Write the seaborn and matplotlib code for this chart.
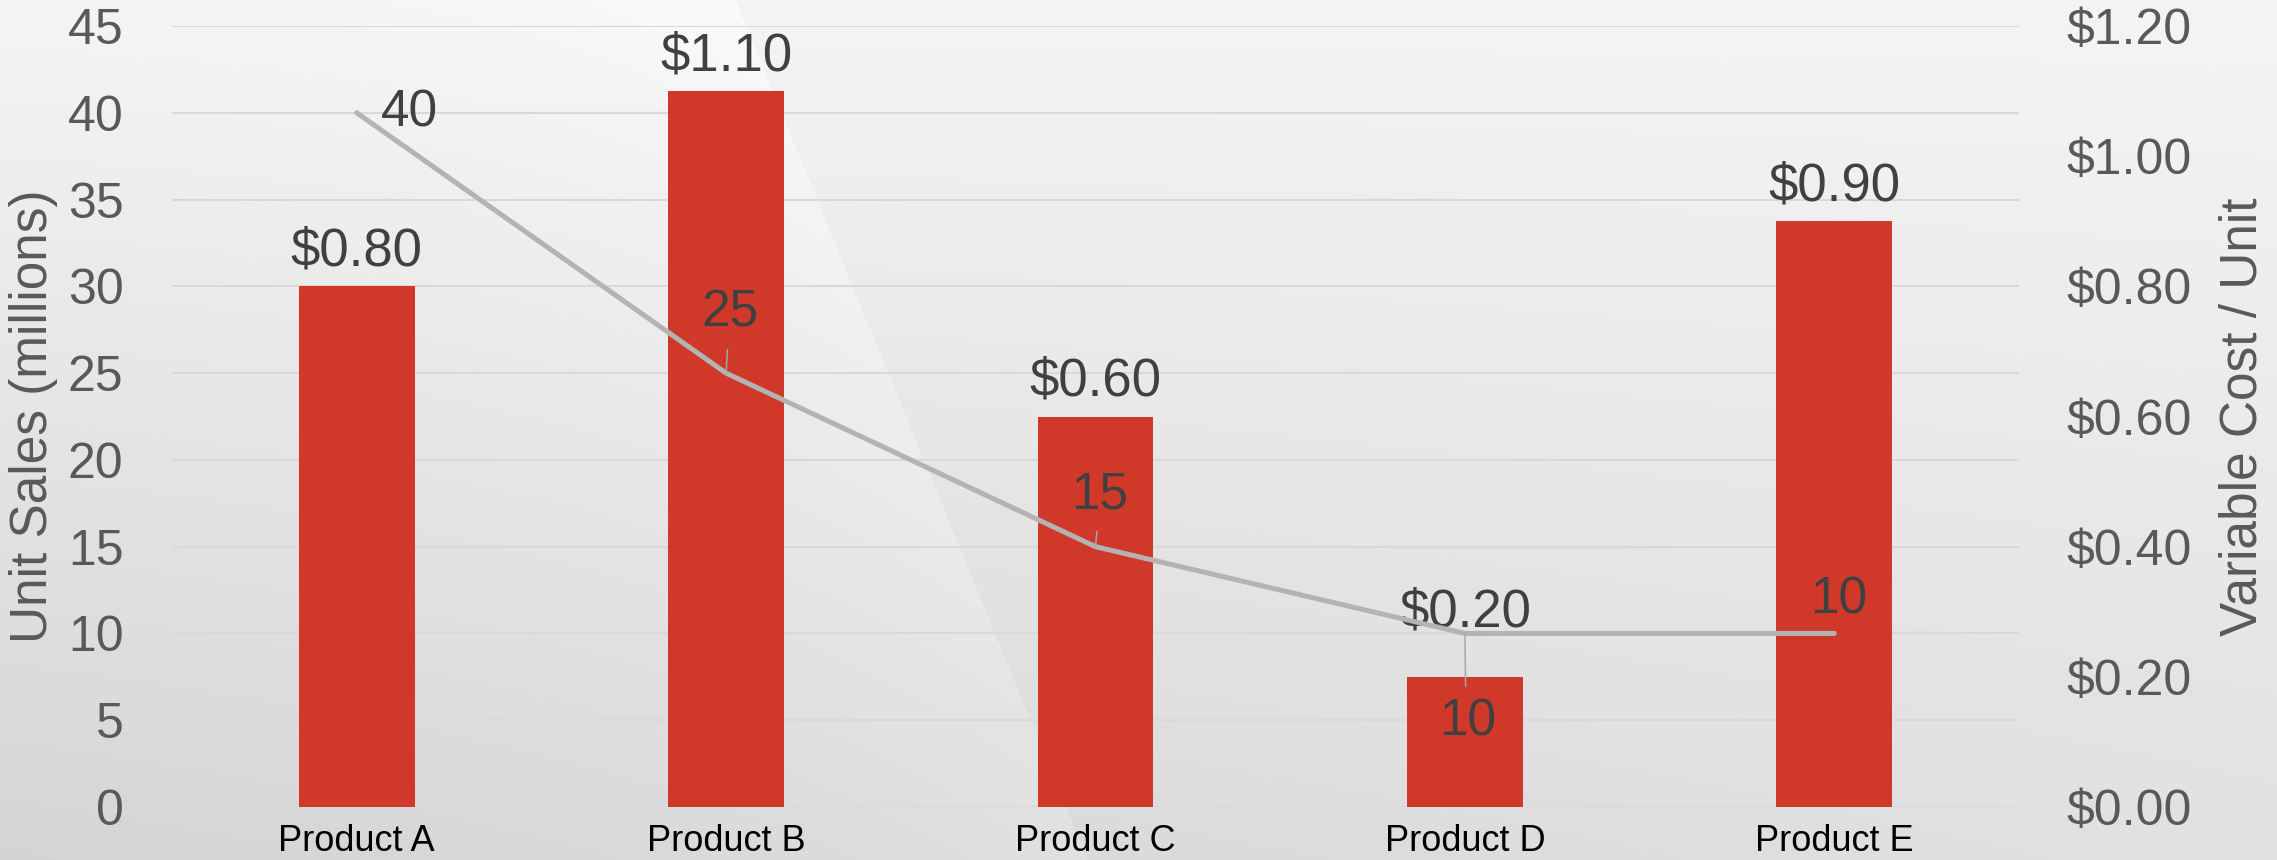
import numpy as np
import matplotlib
matplotlib.use("Agg")
import matplotlib.pyplot as plt
import seaborn as sns

# data
products = ["Product A", "Product B", "Product C", "Product D", "Product E"]
unit_sales = [40, 25, 15, 10, 10]                 # millions (line, left axis)
variable_cost = [0.80, 1.10, 0.60, 0.20, 0.90]    # $ per unit (bars, right axis)
sales_ticks = [0, 5, 10, 15, 20, 25, 30, 35, 40, 45]
cost_ticks = [0.0, 0.2, 0.4, 0.6, 0.8, 1.0, 1.2]

# label placement (points): bar label lift, line label offset and leader length
bar_label_pad = [15, 15, 15, 36, 15]
line_label_off = [(38, 0), (3, 43), (3, 37), (2, -64), (3, 24)]
leader_len = [0, 17, 11, -38, 0]

bar_color = "#D0392A"
line_color = "#B3B3B3"
grid_color = "#D9D9D9"
tick_color = "#595959"
label_color = "#404040"

sns.set_theme(style="white")
plt.rcParams["font.family"] = ["Liberation Sans", "DejaVu Sans"]

W, H = 2277, 860
fig = plt.figure(figsize=(W / 100, H / 100), dpi=100)

# soft grey background with a light diagonal sweep
yy, xx = np.mgrid[0:H, 0:W].astype(float)
yn, xn = yy / H, xx / W
bg = 0.955 - 0.125 * yn + 0.05 * xn * yn
d = (735 + 0.41 * yy) - xx
bg = bg + np.where(d > 0, 0.025 * np.exp(-d / 260), 0)
fig.figimage(np.clip(bg, 0, 1), xo=0, yo=0, origin="upper", cmap="gray",
             vmin=0, vmax=1, zorder=-10)

ax = fig.add_axes([172 / W, 1 - 807 / H, 1847 / W, 781 / H])
ax.patch.set_visible(False)
ax2 = ax.twinx()
ax3 = ax.twinx()
ax.set_zorder(0)
ax2.set_zorder(1)
ax3.set_zorder(2)
for a in (ax2, ax3):
    a.patch.set_visible(False)

# bars: variable cost
sns.barplot(x=products, y=variable_cost, ax=ax2, color=bar_color,
            saturation=1, width=0.314, linewidth=0)
# line: unit sales
pos = np.arange(len(products))
sns.lineplot(x=pos, y=unit_sales, ax=ax3, color=line_color, linewidth=3.6,
             solid_capstyle="round", solid_joinstyle="round")

ax.set_xlim(-0.5, len(products) - 0.5)
ax.set_ylim(0, 45)
ax2.set_ylim(0, 1.2)
ax3.set_ylim(0, 45)
ax3.set_axis_off()

ax.set_yticks(sales_ticks)
ax.set_yticklabels([str(t) for t in sales_ticks])
ax.set_xticks(pos)
ax.set_xticklabels(products)
ax.yaxis.grid(True, color=grid_color, linewidth=1.5)
ax.xaxis.grid(False)
ax.tick_params(axis="y", length=0, labelsize=36, labelcolor=tick_color, pad=35)
ax.tick_params(axis="x", length=0, labelsize=26, labelcolor="black", pad=12)

ax2.set_yticks(cost_ticks)
ax2.set_yticklabels([f"${t:.2f}" for t in cost_ticks])
ax2.tick_params(axis="y", length=0, labelsize=36, labelcolor=tick_color, pad=34)
ax2.set_xlabel("")
ax2.set_ylabel("")

for a in (ax, ax2, ax3):
    for s in a.spines.values():
        s.set_visible(False)

ax.set_ylabel("Unit Sales (millions)", fontsize=37, color=tick_color)
ax.yaxis.set_label_coords((58 - 172) / 1847, 0.5)
ax2.set_ylabel("Variable Cost / Unit", fontsize=37, color=tick_color, rotation=90)
ax2.yaxis.set_label_coords((2218 - 172) / 1847, 0.5)

for i, v in enumerate(variable_cost):
    ax2.annotate(f"${v:.2f}", (i, v), xytext=(0, bar_label_pad[i]),
                 textcoords="offset points", ha="center", va="baseline",
                 fontsize=38, color=label_color)

for i, v in enumerate(unit_sales):
    dx, dy = line_label_off[i]
    ax3.annotate(str(v), (i, v), xytext=(dx, dy), textcoords="offset points",
                 ha="center", va="center", fontsize=37, color=label_color)
    if leader_len[i]:
        ax3.annotate("", xy=(i, v), xytext=(1 if leader_len[i] > 0 else 0.5, leader_len[i]),
                     textcoords="offset points",
                     arrowprops=dict(arrowstyle="-", color="#A6A6A6", lw=1.1,
                                     shrinkA=0, shrinkB=0))

fig.savefig("out.png", dpi=100)
